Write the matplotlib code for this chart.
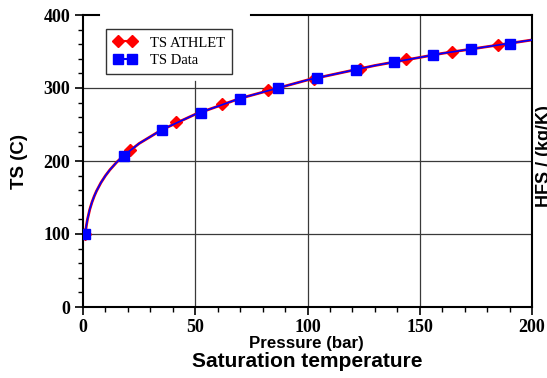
import matplotlib.pyplot as plt
from matplotlib.lines import Line2D
from matplotlib.ticker import MultipleLocator

# saturation line, pressure (bar) vs temperature (C)
curve_p = [1, 1.5, 2, 3, 4, 5, 6, 8, 10, 12, 15, 18, 25, 35, 50, 70, 100, 130, 160, 200]
curve_ts = [99.6, 111.4, 120.2, 133.5, 143.6, 151.8, 158.8, 170.4, 179.9, 188.0, 198.3,
            207.1, 224.0, 242.6, 264.0, 285.8, 311.0, 330.8, 347.4, 365.8]

# ATHLET results
athlet_p = [1, 21, 41.5, 62, 82.5, 103, 123.5, 144, 164.5, 185]
athlet_ts = [99.6, 215.0, 253.0, 278.0, 297.0, 313.0, 326.5, 339.5, 349.5, 358.5]

# table data
data_p = [1, 18.2, 35.4, 52.6, 69.8, 87, 104.2, 121.4, 138.6, 155.8, 173, 190.2]
data_ts = [99.6, 207.5, 242.8, 266.2, 285.5, 300.2, 313.5, 325.0, 335.5, 344.8, 353.0, 360.3]

W, H = 547, 378
fig = plt.figure(figsize=(W / 100, H / 100), dpi=100)
ax = fig.add_axes([83 / W, (H - 307) / H, 449 / W, 292 / H])

ax.set_xlim(0, 200)
ax.set_ylim(0, 400)

# grid drawn by hand (the 50 bar line stops below the legend)
gcol = '#3a3a3a'
for y in [100, 200, 300]:
    ax.axhline(y, color=gcol, lw=0.9, zorder=0)
ax.axvline(50, ymax=310 / 400, color=gcol, lw=0.9, zorder=0)
for x in [100, 150]:
    ax.axvline(x, color=gcol, lw=0.9, zorder=0)

ax.plot(curve_p, curve_ts, color='red', lw=2.0, zorder=2)
ax.plot(athlet_p, athlet_ts, ls='none', marker='D', ms=6, color='red', mec='red', zorder=3)
ax.plot(curve_p, curve_ts, color='blue', lw=1.2, zorder=4)
ax.plot(data_p, data_ts, ls='none', marker='s', ms=7, color='blue', mec='blue', zorder=5)

# spines
for s in ['left', 'bottom', 'right']:
    ax.spines[s].set_linewidth(1.5)
ax.spines['top'].set_visible(False)
ax.plot([0, 0.036], [1, 1], transform=ax.transAxes, color='k', lw=1.5, clip_on=False)
ax.plot([0.374, 1], [1, 1], transform=ax.transAxes, color='k', lw=1.5, clip_on=False)

ax.xaxis.set_major_locator(MultipleLocator(50))
ax.xaxis.set_minor_locator(MultipleLocator(10))
ax.yaxis.set_major_locator(MultipleLocator(100))
ax.yaxis.set_minor_locator(MultipleLocator(20))
ax.tick_params(which='major', direction='out', length=6, width=1.2, pad=3)
ax.tick_params(which='minor', direction='out', length=3.5, width=1.0)
for lab in ax.get_xticklabels() + ax.get_yticklabels():
    lab.set_fontfamily('Liberation Serif')
    lab.set_fontsize(13)
    lab.set_fontweight('bold')

ax.set_ylabel('TS (C)', fontfamily='Liberation Sans', fontweight='bold', fontsize=13.5)
ax.yaxis.set_label_coords(-0.1225, 0.5)
ax.set_xlabel('Pressure (bar)', fontfamily='Liberation Sans', fontweight='bold', fontsize=12.2)
ax.xaxis.set_label_coords(0.497, -0.1)

fig.text(307 / W, 11 / H, 'Saturation temperature', ha='center', va='baseline',
         fontfamily='Liberation Sans', fontweight='bold', fontsize=15)
fig.text(536 / W, 1 - 156 / H, 'HFS / (kg/K)', rotation=90, ha='left', va='center',
         fontfamily='Liberation Sans', fontweight='bold', fontsize=13)

handles = [
    Line2D([], [], color='red', lw=1.5, marker='D', ms=6),
    Line2D([], [], color='blue', lw=1.5, marker='s', ms=7),
]
leg = ax.legend(handles, ['TS ATHLET', 'TS Data'], loc='upper left',
                bbox_to_anchor=(0.0512, 0.952), borderaxespad=0, numpoints=2,
                prop={'family': 'Liberation Serif', 'size': 10.5},
                frameon=True, fancybox=False, handlelength=1.6, handletextpad=0.9,
                borderpad=0.5, labelspacing=0.3)
leg.get_frame().set_edgecolor('black')
leg.get_frame().set_linewidth(1.0)
leg.set_zorder(6)

fig.savefig('out.png', dpi=100)
